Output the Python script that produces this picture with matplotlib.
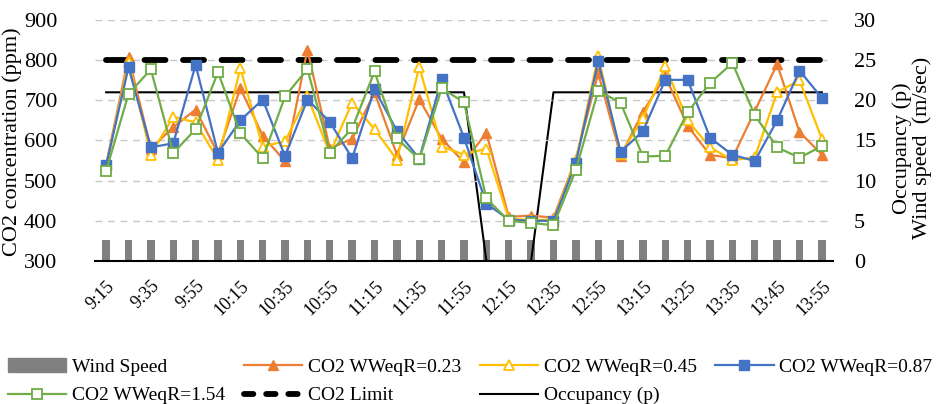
import matplotlib
matplotlib.use("Agg")
import matplotlib.pyplot as plt
import numpy as np
from matplotlib.patches import Patch
from matplotlib.lines import Line2D

plt.rcParams['font.family'] = ['Liberation Serif', 'DejaVu Serif']

times = ["9:15", "9:25", "9:35", "9:45", "9:55", "10:05", "10:15", "10:25", "10:35",
         "10:45", "10:55", "11:05", "11:15", "11:25", "11:35", "11:45", "11:55",
         "12:05", "12:15", "12:25", "12:35", "12:45", "12:55", "13:05", "13:15",
         "13:20", "13:25", "13:30", "13:35", "13:40", "13:45", "13:50", "13:55"]

wind_speed = [2.6] * 33

co2_023 = [540, 808, 580, 633, 677, 567, 730, 612, 548, 826, 580, 604, 720, 565, 703, 604,
           546, 619, 410, 413, 408, 554, 767, 562, 671, 760, 636, 564, 556, 673, 790, 621, 565]
co2_045 = [535, 795, 565, 659, 645, 552, 780, 585, 598, 710, 568, 694, 628, 552, 784, 585,
           565, 580, 405, 402, 403, 550, 810, 566, 655, 785, 650, 583, 551, 558, 720, 750, 604]
co2_087 = [538, 782, 583, 593, 788, 569, 650, 702, 561, 702, 646, 556, 728, 624, 555, 752,
           607, 443, 403, 400, 400, 544, 798, 572, 623, 751, 751, 607, 564, 549, 650, 774, 706]
co2_154 = [524, 716, 777, 569, 628, 770, 618, 556, 710, 778, 570, 630, 772, 605, 553, 730,
           695, 456, 400, 395, 389, 526, 724, 694, 560, 562, 670, 743, 793, 663, 583, 557, 586]
co2_limit = [800] * 33
occupancy = [21] * 17 + [0, 0, 0] + [21] * 13

x = np.arange(len(times))

W, H = 943, 404
fig = plt.figure(figsize=(W / 100, H / 100), dpi=100)
ax = fig.add_axes([0.1007, 0.354, 0.7827, 0.5965])
ax2 = ax.twinx()

ax.set_zorder(ax2.get_zorder() + 1)
ax.patch.set_visible(False)

# bars and occupancy on right axis
ax2.bar(x, wind_speed, width=0.33, color='#808080', zorder=2)
ax2.plot(x, occupancy, color='black', lw=1.5, zorder=3)
ax2.set_ylim(0, 30)
ax2.set_yticks(np.arange(0, 31, 5))

ax.set_ylim(300, 900)
ax.set_yticks(np.arange(300, 901, 100))
ax.set_xlim(-0.5, len(times) - 0.5)
ax.yaxis.grid(True, color='#c8c8c8', lw=1.0, linestyle=(0, (5, 4)))
ax.set_axisbelow(True)

ax.plot(x, co2_limit, color='black', lw=4.2, linestyle=(0, (3.6, 3.0)),
        dash_capstyle='round', zorder=3)
ax.plot(x, co2_023, color='#ED7D31', lw=1.6, marker='^', ms=7, mfc='#ED7D31', mec='#ED7D31', zorder=4)
ax.plot(x, co2_045, color='#FFC000', lw=1.6, marker='^', ms=7, mfc='white', mec='#FFC000', mew=1.3, zorder=4)
ax.plot(x, co2_087, color='#4472C4', lw=1.6, marker='s', ms=6.5, mfc='#4472C4', mec='#4472C4', zorder=4)
ax.plot(x, co2_154, color='#70AD47', lw=1.6, marker='s', ms=6.5, mfc='white', mec='#70AD47', mew=1.3, zorder=4)

ax.set_xticks(x[::2])
ax.set_xticklabels(times[::2], rotation=45, ha='right', rotation_mode='anchor', fontsize=13)
ax.tick_params(axis='x', length=0, pad=12)
ax.tick_params(axis='y', length=0, pad=27, labelsize=16)
ax2.tick_params(axis='y', length=0, pad=15, labelsize=16)

for a in (ax, ax2):
    for s in ('top', 'left', 'right'):
        a.spines[s].set_visible(False)
ax.spines['bottom'].set_color('black')
ax.spines['bottom'].set_linewidth(1.5)
ax2.spines['bottom'].set_visible(False)

fig.text(12 / W, 1 - 142 / H, 'CO2 concentration (ppm)', fontsize=16, rotation=90,
         ha='center', va='center')
fig.text(912 / W, 1 - 148 / H, 'Occupancy (p)\nWind speed  (m/sec)', fontsize=16,
         rotation=90, ha='center', va='center', multialignment='center',
         linespacing=1.05)

h_wind = Patch(facecolor='#808080', edgecolor='#808080')
h023 = Line2D([], [], color='#ED7D31', lw=1.6, marker='^', ms=7, mfc='#ED7D31', mec='#ED7D31')
h045 = Line2D([], [], color='#FFC000', lw=1.6, marker='^', ms=7, mfc='white', mec='#FFC000', mew=1.3)
h087 = Line2D([], [], color='#4472C4', lw=1.6, marker='s', ms=6.5, mfc='#4472C4', mec='#4472C4')
h154 = Line2D([], [], color='#70AD47', lw=1.6, marker='s', ms=6.5, mfc='white', mec='#70AD47', mew=1.3)
hlim = Line2D([], [], color='black', lw=4.2, linestyle=(0, (1.6, 2.2)), dash_capstyle='round')
hocc = Line2D([], [], color='black', lw=1.5)

handles = [h_wind, h154, h023, hlim, h045, hocc, h087]
labels = ['Wind Speed', 'CO2 WWeqR=1.54', 'CO2 WWeqR=0.23', 'CO2 Limit',
          'CO2 WWeqR=0.45', 'Occupancy (p)', 'CO2 WWeqR=0.87']
fig.legend(handles, labels, ncol=4, loc='lower left', bbox_to_anchor=(-0.004, -0.03),
           frameon=False, fontsize=14, handlelength=3.0, handletextpad=0.3,
           columnspacing=0.95, labelspacing=0.55, borderaxespad=0.2)

fig.savefig('out.png', dpi=100)
